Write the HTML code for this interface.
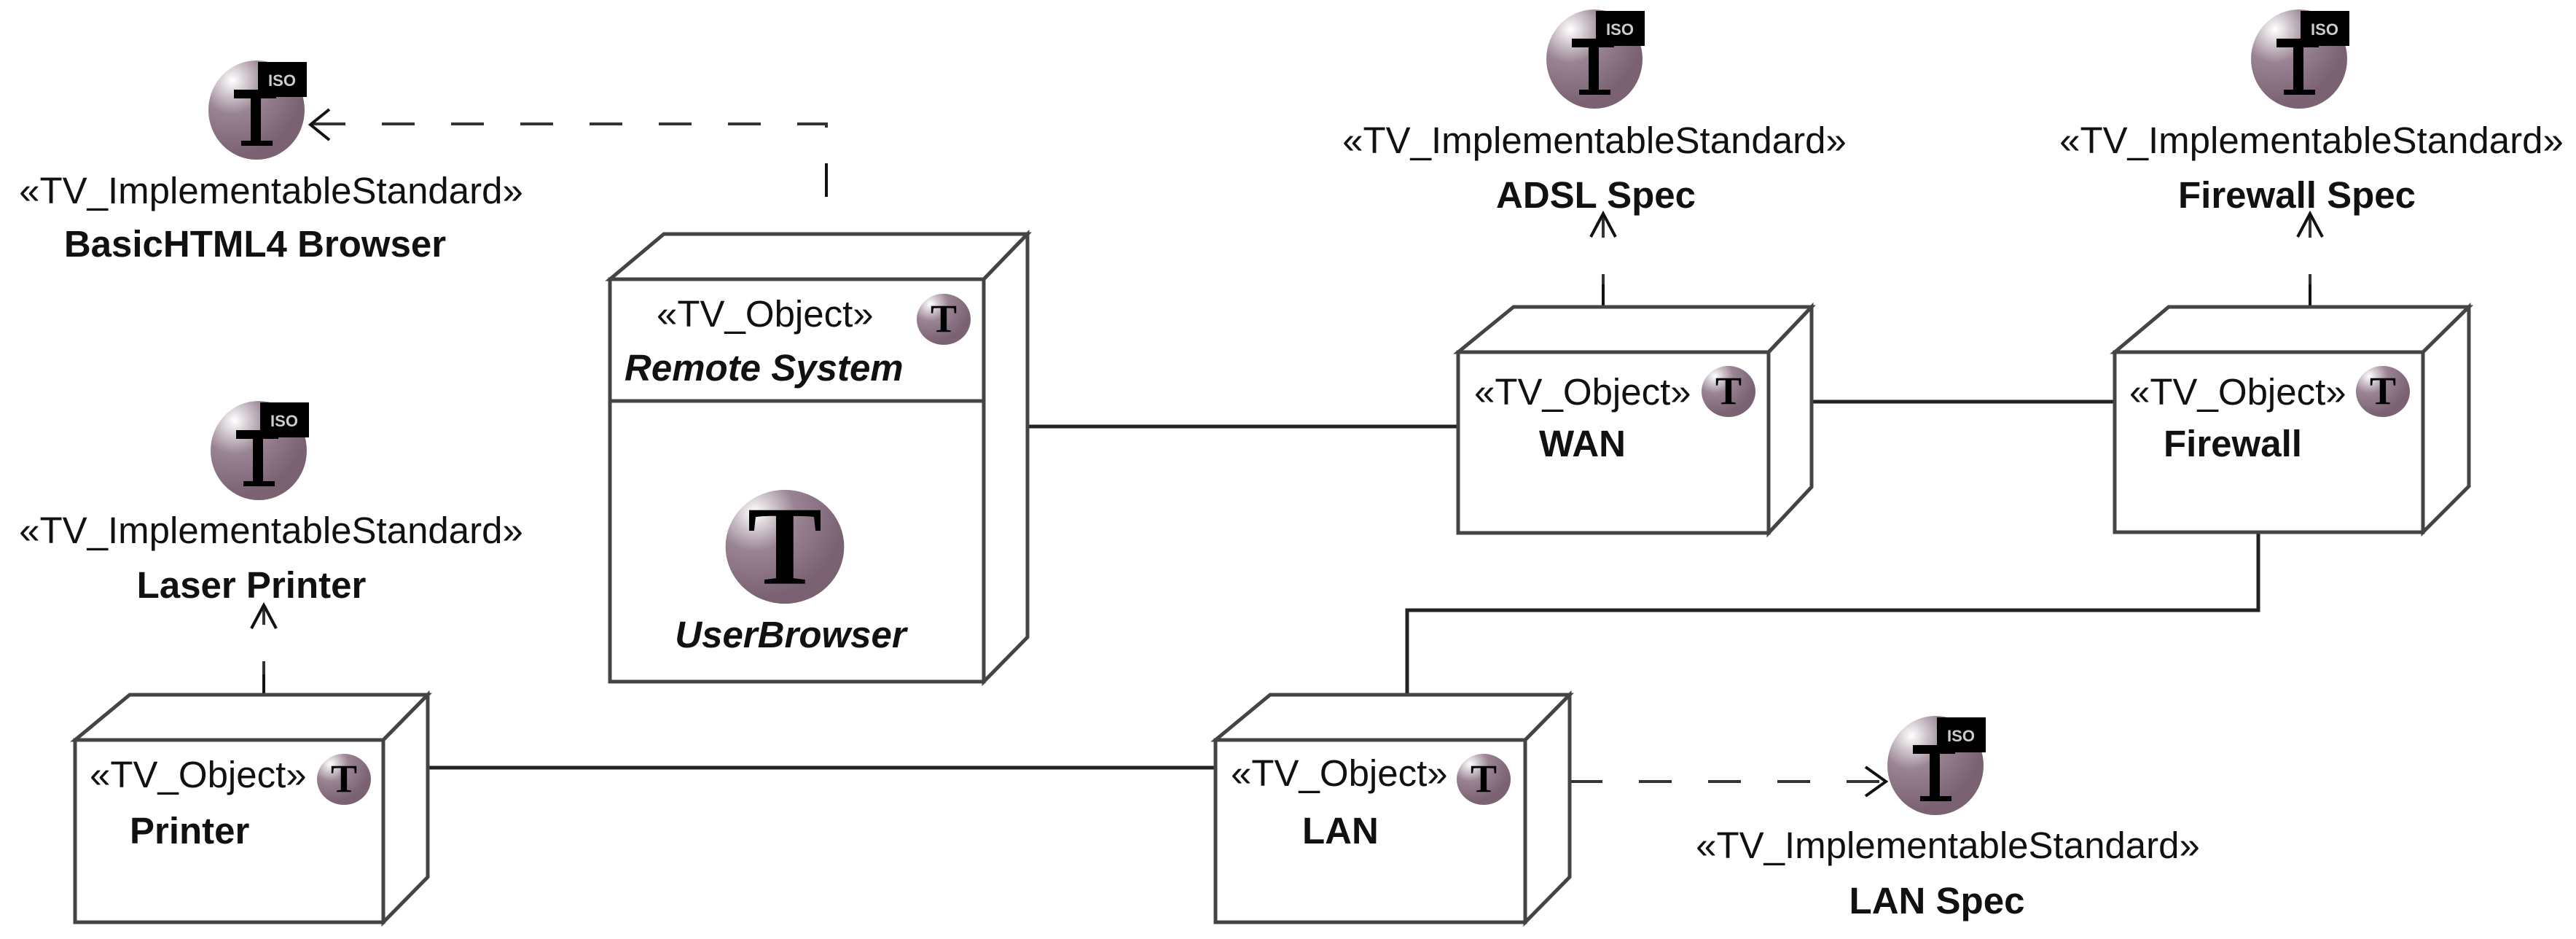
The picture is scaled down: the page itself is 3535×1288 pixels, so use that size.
<!DOCTYPE html>
<html><head><meta charset="utf-8">
<style>
html,body{margin:0;padding:0;background:#fff;}
svg{display:block;}
text{font-family:"Liberation Sans",Arial,sans-serif;fill:#111;}
.st{font-size:51px;}
.nm{font-size:51px;font-weight:bold;}
.it{font-size:51px;font-weight:bold;font-style:italic;}
</style></head><body>
<svg width="3535" height="1288" viewBox="0 0 3535 1288" xmlns="http://www.w3.org/2000/svg">
<defs>
<radialGradient id="g" cx="0.25" cy="0.2" r="0.75">
<stop offset="0" stop-color="#ffffff"/>
<stop offset="0.45" stop-color="#9a8494"/>
<stop offset="1" stop-color="#7a6272"/>
</radialGradient>
<g id="std">
<ellipse cx="0" cy="0" rx="66" ry="68" fill="url(#g)"/>
<rect x="-31" y="-28" width="58" height="12" fill="#000"/>
<rect x="-8" y="-28" width="14" height="76" fill="#000"/>
<rect x="-21" y="42" width="43" height="7" fill="#000"/>
<rect x="2" y="-66" width="67" height="48" fill="#000"/>
<text x="35" y="-33" text-anchor="middle" style="font-size:22px;font-weight:bold;fill:#ccc">ISO</text>
</g>
<g id="tt">
<ellipse cx="0" cy="0" rx="37" ry="35" fill="url(#g)"/>
<text x="0" y="17" text-anchor="middle" style="font-family:'Liberation Serif',serif;font-size:54px;font-weight:bold;fill:#000">T</text>
</g>
</defs>

<g stroke="#222" stroke-width="5" fill="none">
<line x1="1412" y1="585" x2="2001" y2="585"/>
<line x1="2486" y1="551" x2="2902" y2="551"/>
<line x1="587" y1="1053" x2="1670" y2="1053"/>
<polyline points="3099,730 3099,837 1931,837 1931,953"/>
</g>

<g stroke="#333" stroke-width="4" fill="none" stroke-dasharray="45,50">
<polyline points="1134,270 1134,170 428,170"/>
<line x1="362" y1="952" x2="362" y2="834"/>
<line x1="2200" y1="421" x2="2200" y2="296"/>
<line x1="3170" y1="421" x2="3170" y2="296"/>
<line x1="2154" y1="1072" x2="2589" y2="1072"/>
</g>
<g stroke="#111" stroke-width="4" fill="none">
<polyline points="452,150 426,171 452,192"/>
<polyline points="345,862 362,830 379,862"/>
<polyline points="2183,325 2200,293 2217,325"/>
<polyline points="3153,325 3170,293 3187,325"/>
<polyline points="2560,1052 2588,1072 2560,1092"/>
<line x1="1134" y1="224" x2="1134" y2="270"/>
<line x1="362" y1="925" x2="362" y2="952"/>
<line x1="2200" y1="390" x2="2200" y2="421"/>
<line x1="3170" y1="390" x2="3170" y2="421"/>
</g>

<g stroke="#444" stroke-width="5" fill="#fff" stroke-linejoin="miter">
<polygon points="837,383 911,321 1410,321 1350,383"/>
<polygon points="1350,383 1410,321 1410,874 1350,935"/>
<rect x="837" y="383" width="513" height="552"/>
<line x1="837" y1="550" x2="1350" y2="550"/>
<polygon points="2001,483 2077,421 2486,421 2427,483"/>
<polygon points="2427,483 2486,421 2486,668 2427,731"/>
<rect x="2001" y="483" width="426" height="248"/>
<polygon points="2902,483 2976,421 3388,421 3325,483"/>
<polygon points="3325,483 3388,421 3388,667 3325,730"/>
<rect x="2902" y="483" width="423" height="247"/>
<polygon points="103,1015 178,953 587,953 526,1015"/>
<polygon points="526,1015 587,953 587,1203 526,1265"/>
<rect x="103" y="1015" width="423" height="250"/>
<polygon points="1668,1015 1743,953 2154,953 2093,1015"/>
<polygon points="2093,1015 2154,953 2154,1203 2093,1265"/>
<rect x="1668" y="1015" width="425" height="250"/>
</g>

<use href="#std" x="352" y="151"/>
<use href="#std" x="355" y="618"/>
<use href="#std" x="2188" y="81"/>
<use href="#std" x="3155" y="81"/>
<use href="#std" x="2656" y="1050"/>
<use href="#tt" x="1295" y="438"/>
<use href="#tt" x="2372" y="537"/>
<use href="#tt" x="3270" y="537"/>
<use href="#tt" x="472" y="1069"/>
<use href="#tt" x="2036" y="1069"/>
<g transform="translate(1077,750) scale(2.2)">
<ellipse cx="0" cy="0" rx="37" ry="35.5" fill="url(#g)"/>
<text x="0" y="23" text-anchor="middle" style="font-family:'Liberation Serif',serif;font-size:70px;font-weight:bold;fill:#000">T</text>
</g>

<text class="st" x="372" y="279" text-anchor="middle">«TV_ImplementableStandard»</text>
<text class="nm" x="350" y="352" text-anchor="middle">BasicHTML4 Browser</text>
<text class="st" x="372" y="745" text-anchor="middle">«TV_ImplementableStandard»</text>
<text class="nm" x="345" y="820" text-anchor="middle">Laser Printer</text>
<text class="st" x="2188" y="210" text-anchor="middle">«TV_ImplementableStandard»</text>
<text class="nm" x="2190" y="285" text-anchor="middle">ADSL Spec</text>
<text class="st" x="3172" y="210" text-anchor="middle">«TV_ImplementableStandard»</text>
<text class="nm" x="3152" y="285" text-anchor="middle">Firewall Spec</text>
<text class="st" x="2673" y="1177" text-anchor="middle">«TV_ImplementableStandard»</text>
<text class="nm" x="2658" y="1253" text-anchor="middle">LAN Spec</text>

<text class="st" x="901" y="448">«TV_Object»</text>
<text class="it" x="857" y="522">Remote System</text>
<text class="it" x="1085" y="888" text-anchor="middle">UserBrowser</text>

<text class="st" x="2023" y="555">«TV_Object»</text>
<text class="nm" x="2112" y="626">WAN</text>
<text class="st" x="2922" y="555">«TV_Object»</text>
<text class="nm" x="2969" y="626">Firewall</text>
<text class="st" x="123" y="1080">«TV_Object»</text>
<text class="nm" x="178" y="1157">Printer</text>
<text class="st" x="1689" y="1078">«TV_Object»</text>
<text class="nm" x="1787" y="1157">LAN</text>
</svg>
</body></html>
